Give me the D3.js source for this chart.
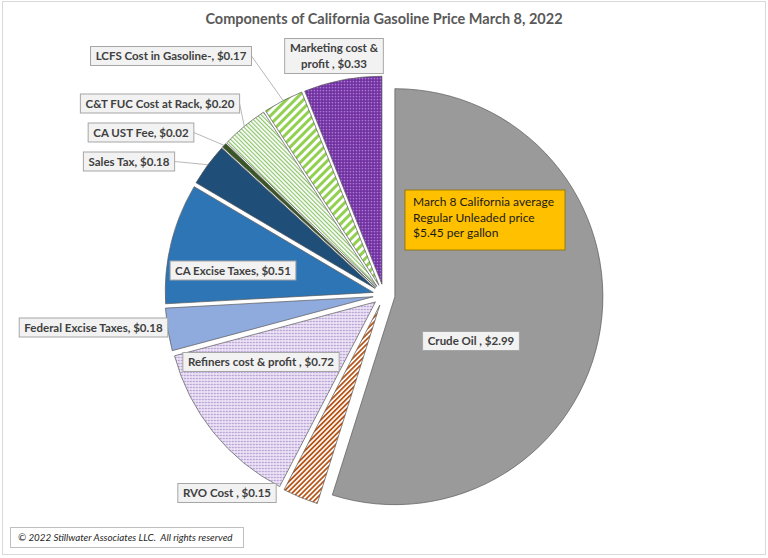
<!DOCTYPE html>
<html><head><meta charset="utf-8">
<script src="https://cdn.jsdelivr.net/npm/d3@7"></script>
<style>
html,body{margin:0;padding:0;background:#fff;}
svg{display:block;}
text{font-family:Lato,"Open Sans",sans-serif;}
</style></head>
<body>
<svg id="chart" width="768" height="558"></svg>
<script>
// ---- data ----
const title = "Components of California Gasoline Price March 8, 2022";
const categories = ["Crude Oil ", "RVO Cost ", "Refiners cost & profit ", "Federal Excise Taxes",
  "CA Excise Taxes", "Sales Tax", "CA UST Fee", "C&T FUC Cost at Rack", "LCFS Cost in Gasoline-",
  "Marketing cost & profit "];
const values = [2.99, 0.15, 0.72, 0.18, 0.51, 0.18, 0.02, 0.20, 0.17, 0.33];
const calloutLines = ["March 8 California average", "Regular Unleaded price", "$5.45 per gallon"];
const copyright = "\u00A9 2022 Stillwater Associates LLC.  All rights reserved";

// ---- layout ----
const svg = d3.select("#chart");
const cx = 384, cy = 295, R = 208, explode = 11;

svg.append("rect").attr("x", 2.5).attr("y", 1.5).attr("width", 763).attr("height", 553)
  .attr("fill", "#fff").attr("stroke", "#d9d9d9");

// patterns
const defs = svg.append("defs");
function stripes(id, color, period, width, angle, bg) {
  const p = defs.append("pattern").attr("id", id).attr("patternUnits", "userSpaceOnUse")
    .attr("width", period).attr("height", period).attr("patternTransform", `rotate(${angle})`);
  p.append("rect").attr("width", period).attr("height", period).attr("fill", bg);
  p.append("rect").attr("width", width).attr("height", period).attr("fill", color);
}
function dots(id, bg, color, step, rad) {
  const p = defs.append("pattern").attr("id", id).attr("patternUnits", "userSpaceOnUse")
    .attr("width", step).attr("height", step);
  p.append("rect").attr("width", step).attr("height", step).attr("fill", bg);
  p.append("circle").attr("cx", step / 2).attr("cy", step / 2).attr("r", rad).attr("fill", color);
}
stripes("pRVO", "#b8561a", 3.5, 1.8, 45, "#fff");
dots("pRef", "#efe7f7", "#9b7fc4", 3, 0.85);
stripes("pCT", "#8cc46a", 3, 1.2, -45, "#fff");
stripes("pLCFS", "#92d050", 6, 3, 45, "#fff");
dots("pMkt", "#7030a0", "#b98fe0", 3, 0.8);

const fills = ["#9a9a9a", "url(#pRVO)", "url(#pRef)", "#8faadc", "#2e75b6", "#1f4e79",
  "#375623", "url(#pCT)", "url(#pLCFS)", "url(#pMkt)"];

const pie = d3.pie().sort(null).value(d => d).startAngle(0).endAngle(2 * Math.PI);
const arcs = pie(values);
const arcGen = d3.arc().innerRadius(0).outerRadius(R);

function offset(a) {
  const m = (a.startAngle + a.endAngle) / 2;
  return [cx + explode * Math.sin(m), cy - explode * Math.cos(m)];
}

const g = svg.append("g");
g.selectAll("path").data(arcs).enter().append("path")
  .attr("transform", d => { const o = offset(d); return `translate(${o[0]},${o[1]})`; })
  .attr("d", arcGen)
  .attr("fill", (d, i) => fills[i])
  .attr("stroke", "#595959").attr("stroke-width", 0.7).attr("stroke-linejoin", "round");

// title
svg.append("text").attr("x", 384).attr("y", 24).attr("text-anchor", "middle")
  .attr("font-size", 14.5).attr("font-weight", 700).attr("fill", "#595959").text(title);

// labels: centres of label boxes per slice index
const labelPos = {
  0: [471, 341], 1: [227, 493], 2: [261, 362], 3: [93.5, 327.5], 4: [233, 270.5],
  5: [129, 161.5], 6: [141, 132.5], 7: [160, 103.5], 8: [171, 56], 9: [334, 56]
};
const leaders = [5, 6, 7, 8];
const labelG = svg.append("g");

leaders.forEach(i => {
  const a = arcs[i];
  const m = (a.startAngle + a.endAngle) / 2;
  const o = offset(a);
  const px = o[0] + R * Math.sin(m), py = o[1] - R * Math.cos(m);
  labelG.append("line").attr("class", "leader").attr("data-i", i)
    .attr("x2", px).attr("y2", py).attr("stroke", "#a6a6a6").attr("stroke-width", 0.8);
});

arcs.forEach((a, i) => {
  const [lx, ly] = labelPos[i];
  const txt = categories[i] + ", $" + values[i].toFixed(2);
  const lines = i === 9 ? ["Marketing cost &", "profit , $" + values[i].toFixed(2)] : [txt];
  const lg = labelG.append("g");
  const rect = lg.append("rect").attr("fill", "#f2f2f2").attr("stroke", "#a6a6a6").attr("stroke-width", 1);
  const lh = 16;
  const t = lg.append("text").attr("text-anchor", "middle").attr("font-size", 11.5)
    .attr("font-weight", 700).attr("fill", "#404040");
  lines.forEach((ln, k) => {
    t.append("tspan").attr("x", lx).attr("y", ly + (k - (lines.length - 1) / 2) * lh + 4).text(ln);
  });
  const bb = t.node().getBBox();
  const bw = bb.width + 10, bh = lines.length * lh + 3;
  rect.attr("x", lx - bw / 2).attr("y", ly - bh / 2).attr("width", bw).attr("height", bh);
  if (leaders.includes(i)) {
    labelG.select(`line[data-i="${i}"]`).attr("x1", lx + bw / 2).attr("y1", ly);
  }
});

// callout
const cg = svg.append("g");
cg.append("rect").attr("x", 405).attr("y", 190).attr("width", 160).attr("height", 60)
  .attr("fill", "#ffc000").attr("stroke", "#8a6d00").attr("stroke-width", 0.8);
calloutLines.forEach((ln, k) => {
  cg.append("text").attr("x", 413).attr("y", 206 + k * 15.5).attr("font-size", 12)
    .attr("fill", "#1a1a1a").text(ln);
});

// copyright
svg.append("rect").attr("x", 10.5).attr("y", 527.5).attr("width", 233).attr("height", 20)
  .attr("fill", "#fff").attr("stroke", "#bfbfbf");
svg.append("text").attr("x", 18).attr("y", 541).attr("font-size", 9.8).attr("font-style", "italic")
  .style("white-space", "pre").attr("xml:space", "preserve")
  .attr("fill", "#262626").text(copyright);
</script>
</body></html>
